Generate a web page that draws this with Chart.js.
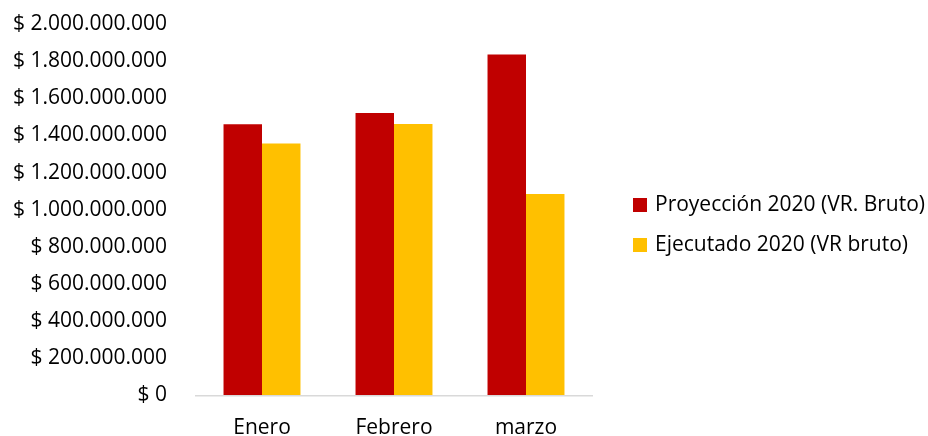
<!DOCTYPE html>
<html>
<head>
<meta charset="utf-8">
<script src="https://cdn.jsdelivr.net/npm/chart.js@4.4.1/dist/chart.umd.min.js"></script>
<style>
  html, body { margin: 0; padding: 0; background: #fff; }
  #wrap { width: 928px; height: 436px; position: relative; }
</style>
</head>
<body>
<div id="wrap"><canvas id="myChart"></canvas></div>
<script>
var categories = ['Enero', 'Febrero', 'marzo'];
var proyeccion = [1460000000, 1521000000, 1836000000];
var ejecutado = [1357000000, 1462000000, 1085000000];
var seriesNames = ['Proyección 2020 (VR. Bruto)', 'Ejecutado 2020 (VR bruto)'];
var seriesColors = ['#C00000', '#FFC000'];
var yTicks = [0, 200000000, 400000000, 600000000, 800000000, 1000000000,
    1200000000, 1400000000, 1600000000, 1800000000, 2000000000];

var fontFamily = '"Open Sans", sans-serif';

function pesos(v) {
    if (v === 0) return '$ 0';
    return '$ ' + String(v).replace(/\B(?=(\d{3})+(?!\d))/g, '.');
}

// legend drawn at the right, like the spreadsheet one
var sideLegend = {
    id: 'sideLegend',
    afterDraw: function (chart) {
        var ctx = chart.ctx;
        ctx.save();
        ctx.font = '21px ' + fontFamily;
        ctx.textBaseline = 'middle';
        chart.data.datasets.forEach(function (ds, i) {
            var y = 205 + i * 40;
            ctx.fillStyle = ds.backgroundColor;
            ctx.fillRect(633, y - 7, 14, 14);
            ctx.fillStyle = '#000';
            ctx.fillText(ds.label, 655, y);
        });
        ctx.restore();
    }
};

document.addEventListener('DOMContentLoaded', function () {
    const ctx = document.getElementById('myChart');

    new Chart(ctx, {
        type: 'bar',
        data: {
            labels: categories,
            datasets: [{
                label: seriesNames[0],
                data: proyeccion,
                backgroundColor: seriesColors[0],
                borderWidth: 0
            }, {
                label: seriesNames[1],
                data: ejecutado,
                backgroundColor: seriesColors[1],
                borderWidth: 0
            }]
        },
        options: {
            responsive: true,
            maintainAspectRatio: false,
            animation: false,
            layout: {
                padding: { top: 24, right: 336, bottom: 0, left: 0 }
            },
            plugins: {
                legend: { display: false },
                tooltip: { enabled: false }
            },
            datasets: {
                bar: { categoryPercentage: 0.583, barPercentage: 1 }
            },
            scales: {
                x: {
                    grid: { display: false, drawTicks: false },
                    border: { display: true, color: '#d9d9d9', width: 1.5 },
                    ticks: {
                        color: '#000',
                        padding: 20,
                        font: { family: fontFamily, size: 21 }
                    },
                    afterFit: function (axis) { axis.height = 40.5; }
                },
                y: {
                    min: 0,
                    max: 2000000000,
                    // invisible tick marks push the labels away from the plot
                    grid: { display: true, drawOnChartArea: false, drawTicks: true, tickLength: 27, color: 'rgba(0,0,0,0)' },
                    border: { display: false },
                    afterBuildTicks: function (axis) {
                        axis.ticks = yTicks.map(function (v) { return { value: v }; });
                    },
                    ticks: {
                        color: '#000',
                        padding: 2,
                        font: { family: fontFamily, size: 21 },
                        callback: function (v) { return pesos(v); }
                    },
                    afterFit: function (axis) { axis.width = 196; }
                }
            }
        },
        plugins: [sideLegend]
    });
});
</script>
</body>
</html>
